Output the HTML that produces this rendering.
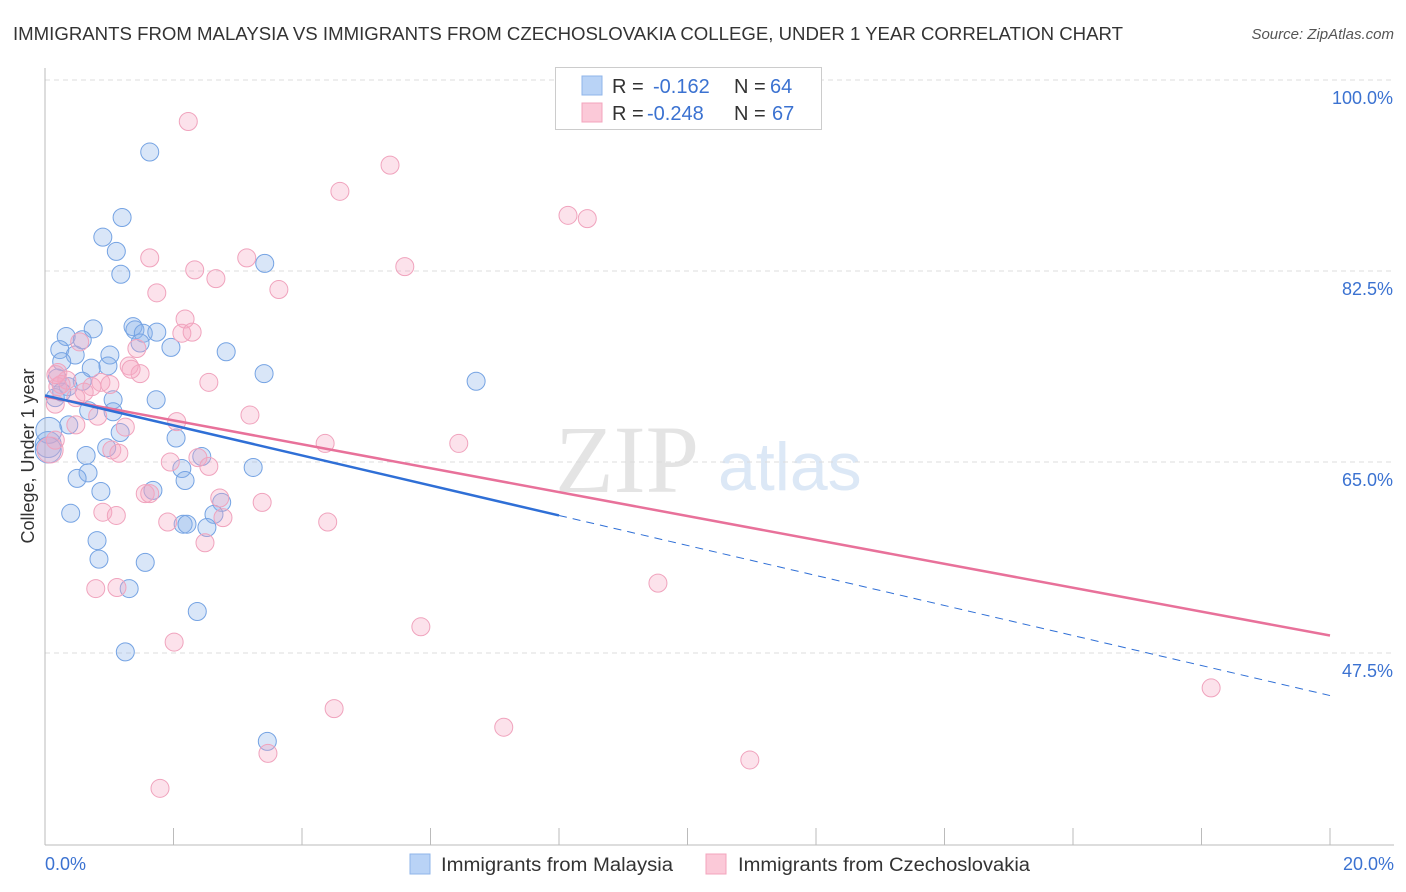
<!DOCTYPE html>
<html><head><meta charset="utf-8"><style>
body{margin:0;background:#fff;font-family:"Liberation Sans",sans-serif;}
svg{display:block}
</style></head><body>
<svg id="chart" width="1406" height="892" xmlns="http://www.w3.org/2000/svg">
<text x="13" y="40" font-size="18" fill="#333" textLength="1110" lengthAdjust="spacingAndGlyphs">IMMIGRANTS FROM MALAYSIA VS IMMIGRANTS FROM CZECHOSLOVAKIA COLLEGE, UNDER 1 YEAR CORRELATION CHART</text>
<text x="1394" y="39" font-size="15" fill="#555" font-style="italic" text-anchor="end">Source: ZipAtlas.com</text>
<g>
<text x="555" y="492" font-size="96" font-family="Liberation Serif,serif" fill="#e4e4e4">ZIP</text>
<text x="718" y="490" font-size="68" fill="#dce8f6">atlas</text>
</g>
<g id="grid"></g>
<g id="axes"></g>
<g id="pts"></g>
<g id="lines"></g>
<g>
<rect x="555.5" y="67.5" width="266" height="62" fill="#fff" stroke="#ccc"/>
<rect x="582" y="76" width="20" height="19" fill="#b9d3f6" stroke="#8fb4ea"/>
<rect x="582" y="103" width="20" height="19" fill="#fbc9d8" stroke="#f3a4bd"/>
<text y="93" font-size="20" fill="#333"><tspan x="612">R =</tspan><tspan x="653" fill="#3b72d1">-0.162</tspan><tspan x="734">N =</tspan><tspan x="770" fill="#3b72d1">64</tspan></text>
<text y="120" font-size="20" fill="#333"><tspan x="612">R =</tspan><tspan x="647" fill="#3b72d1">-0.248</tspan><tspan x="734">N =</tspan><tspan x="772" fill="#3b72d1">67</tspan></text>
</g>
<g>
<rect x="410" y="854" width="20" height="20" fill="#b9d3f6" stroke="#8fb4ea"/>
<text x="441" y="871" font-size="19" fill="#333" textLength="232" lengthAdjust="spacingAndGlyphs">Immigrants from Malaysia</text>
<rect x="706" y="854" width="20" height="20" fill="#fbc9d8" stroke="#f3a4bd"/>
<text x="738" y="871" font-size="19" fill="#333" textLength="292" lengthAdjust="spacingAndGlyphs">Immigrants from Czechoslovakia</text>
</g>
<text x="34" y="456" font-size="18" fill="#333" text-anchor="middle" transform="rotate(-90 34 456)">College, Under 1 year</text>
</svg>
<script>
const yTicks=[100,82.5,65,47.5];
const yTickLabels=["100.0%","82.5%","65.0%","47.5%"];
const xTickLabels=["0.0%","20.0%"];
const blueX=[1.63,1.20,0.90,1.11,1.18,3.42,0.75,0.33,0.23,0.47,0.26,0.58,1.37,1.40,1.53,1.74,1.48,1.96,2.82,1.01,0.98,0.72,3.41,6.71,0.19,0.58,0.36,0.16,1.06,1.73,0.68,1.06,0.37,1.17,2.04,0.05,0.96,0.64,2.44,3.24,2.13,0.67,0.50,2.18,1.68,0.87,2.75,0.40,2.63,2.15,2.21,2.52,0.81,0.84,1.56,1.31,2.37,1.25,3.46,0.06,0.05,0.26];
const blueY=[93.4,87.4,85.6,84.3,82.2,83.2,77.2,76.5,75.3,74.8,74.2,76.2,77.4,77.1,76.8,76.9,75.9,75.5,75.1,74.8,73.8,73.6,73.1,72.4,72.7,72.4,71.9,70.9,70.7,70.7,69.7,69.6,68.4,67.7,67.2,66.6,66.3,65.6,65.5,64.5,64.4,64.0,63.5,63.3,62.4,62.3,61.3,60.3,60.2,59.3,59.3,59.0,57.8,56.1,55.8,53.4,51.3,47.6,39.4,67.9,66.1,71.4];
const pinkX=[2.23,5.37,4.59,8.14,8.44,1.63,3.14,2.33,5.60,2.66,3.64,1.74,2.18,2.13,2.29,0.54,1.43,1.31,1.48,1.34,0.20,0.34,0.87,0.20,0.73,0.61,0.48,0.16,2.55,3.19,0.82,2.05,0.48,1.25,4.36,6.44,1.04,1.15,1.95,2.38,2.55,2.72,1.56,1.63,3.38,0.90,1.11,1.91,2.77,4.40,2.49,0.79,1.12,9.54,5.85,2.01,4.50,7.14,3.47,10.97,1.79,18.15,0.08,0.16,0.25,1.01,0.17];
const pinkY=[96.2,92.2,89.8,87.6,87.3,83.7,83.7,82.6,82.9,81.8,80.8,80.5,78.1,76.8,76.9,76.0,75.4,73.8,73.1,73.5,73.2,72.5,72.3,71.9,71.9,71.4,70.9,70.3,72.3,69.3,69.2,68.7,68.4,68.2,66.7,66.7,66.1,65.8,65.0,65.4,64.6,61.7,62.1,62.1,61.3,60.4,60.1,59.5,59.9,59.5,57.6,53.4,53.5,53.9,49.9,48.5,42.4,40.7,38.3,37.7,35.1,44.3,66.1,67.0,72.1,72.1,73.0];
const blueLine=[71.1,43.6];
const pinkLine=[71.0,49.1];
const blueSolidEnd=8;
const NS="http://www.w3.org/2000/svg";
const X0=45,X1=1330;
function sx(v){return X0+(v/20)*(X1-X0);}
function sy(v){return 80+(100-v)*10.914;}
function mk(t,a,p){const e=document.createElementNS(NS,t);for(const k in a)e.setAttribute(k,a[k]);p.appendChild(e);return e;}
const grid=document.getElementById('grid'),axes=document.getElementById('axes'),pts=document.getElementById('pts'),lines=document.getElementById('lines');
yTicks.forEach((v,i)=>{
 const l=mk('line',{x1:X0,x2:1394,y1:sy(v),y2:sy(v),stroke:'#ddd','stroke-dasharray':'5,4'},grid);
 
 
 const t=mk('text',{x:1393,y:sy(v)+24,'font-size':18,fill:'#3b72d1','text-anchor':'end'},axes);
 t.textContent=yTickLabels[i];
 
 
});
const ya=mk('line',{x1:X0,x2:X0,y1:68,y2:845,stroke:'#bbb'},axes);


const xa=mk('line',{x1:X0,x2:1394,y1:845,y2:845,stroke:'#bbb'},axes);


for(let k=0;k<=10;k++){
 const tk=mk('line',{x1:sx(k*2),x2:sx(k*2),y1:828,y2:845,stroke:'#bbb'},axes);
 
 
}
[[0,'start',45],[20,'end',1394]].forEach((a,i)=>{
 const t=mk('text',{x:a[2],y:870,'font-size':18,fill:'#3b72d1','text-anchor':a[1]},axes);
 t.textContent=xTickLabels[i];
 
 
});
function dots(X,Y,fill,stroke,name){
 X.forEach((x,i)=>{
  const big=x<0.1;
  const c=mk('circle',{cx:sx(x),cy:sy(Y[i]),r:big?13:9,fill:fill,stroke:stroke,'stroke-width':1},pts);
  
  
 });
}
dots(blueX,blueY,'rgba(140,180,235,0.33)','#75a3e3','malaysia-point');
dots(pinkX,pinkY,'rgba(246,168,194,0.33)','#f0a3bd','czech-point');
function ly(line,x){return line[0]+(line[1]-line[0])*x/20;}
const pl=mk('line',{x1:sx(0),y1:sy(pinkLine[0]),x2:sx(20),y2:sy(pinkLine[1]),stroke:'#e8719a','stroke-width':2.5},lines);


const bl=mk('line',{x1:sx(0),y1:sy(blueLine[0]),x2:sx(blueSolidEnd),y2:sy(ly(blueLine,blueSolidEnd)),stroke:'#2f6fd6','stroke-width':2.5},lines);


const bd=mk('line',{x1:sx(blueSolidEnd),y1:sy(ly(blueLine,blueSolidEnd)),x2:sx(20),y2:sy(blueLine[1]),stroke:'#2f6fd6','stroke-width':1,'stroke-dasharray':'8,6'},lines);


</script>
</body></html>
